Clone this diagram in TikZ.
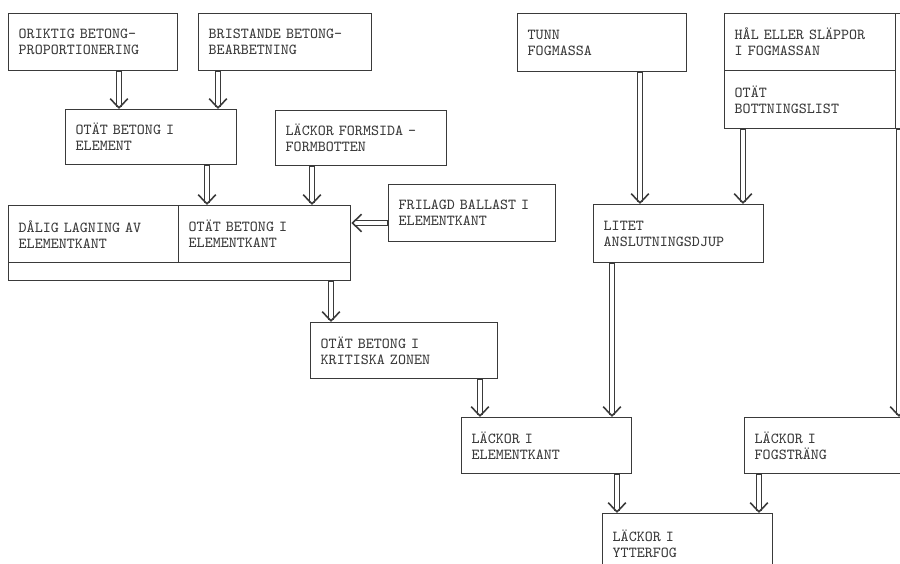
\documentclass[tikz,border=0pt]{standalone}
\usetikzlibrary{arrows.meta}
\definecolor{tinta}{HTML}{3A3A3A}
\newcommand{\maskin}{\fontsize{8.7}{9.1}\selectfont\ttfamily}

\begin{document}
\begin{tikzpicture}[x=0.02cm, y=-0.02cm,
    ruta/.style={draw=tinta, line width=0.8pt, anchor=north west, align=left,
      inner xsep=0.2cm, inner ysep=0pt, text width=#1, minimum height=1.14cm,
      font=\maskin, text=tinta},
    % dubbel stam, enkel öppen pilspets
    pil/.style={draw=tinta, line width=0.9pt, dash pattern=on 0pt off 40cm,
      -{Straight Barb[length=5.2pt, width=10pt]},
      preaction={draw=tinta, arrows=-, solid, line width=3.1pt, shorten >=1.3pt},
      preaction={draw=white, arrows=-, solid, line width=2pt, shorten >=1.3pt, shorten <=0.5pt}}]
  \useasboundingbox (0,0) rectangle (900,564);
  \clip (0,0) rectangle (900,564);
  % betongsidan
  \node[ruta=2.98cm] (ori) at (8,13) {ORIKTIG BETONG-\\PROPORTIONERING};
  \node[ruta=3.06cm] (bri) at (198,13) {BRISTANDE BETONG-\\BEARBETNING};
  \node[ruta=3.02cm, minimum height=1.1cm] (otel) at (65,109) {OTÄT BETONG I\\ELEMENT};
  \node[ruta=3.02cm, minimum height=1.1cm] (lfo) at (275,110) {LÄCKOR FORMSIDA -\\FORMBOTTEN};
  \node[ruta=6.44cm, minimum height=1.5cm] (big) at (8,205) {};
  \node[ruta=3.0cm] (dal) at (8,205) {DÅLIG LAGNING AV\\ELEMENTKANT};
  \node[ruta=3.04cm] (otek) at (178,205) {OTÄT BETONG I\\ELEMENTKANT};
  \node[ruta=2.94cm] (fri) at (388,184) {FRILAGD BALLAST I\\ELEMENTKANT};
  \node[ruta=3.34cm, minimum height=1.12cm] (kri) at (310,322) {OTÄT BETONG I\\KRITISKA ZONEN};
  % fogsidan
  \node[ruta=2.98cm, minimum height=1.16cm] (tun) at (517,13) {TUNN\\FOGMASSA};
  \node[ruta=3.02cm] (hal) at (724,13) {HÅL ELLER SLÄPPOR\\I FOGMASSAN};
  \node[ruta=3.02cm, minimum height=1.16cm] (bot) at (724,70) {OTÄT\\BOTTNINGSLIST};
  \node[ruta=1.0cm, minimum height=2.3cm] (hx) at (895,13) {};
  \node[ruta=3.0cm, minimum height=1.16cm] (lit) at (593,204) {LITET\\ANSLUTNINGSDJUP};
  % läckor
  \node[ruta=3.0cm, minimum height=1.12cm] (lel) at (461,417) {LÄCKOR I\\ELEMENTKANT};
  \node[ruta=3.6cm, minimum height=1.12cm] (lfs) at (744,417) {LÄCKOR I\\FOGSTRÄNG};
  \node[ruta=3.0cm, minimum height=1.2cm] (lyt) at (602,513) {LÄCKOR I\\YTTERFOG};

  \draw[pil] (119,0 |- ori.south) -- (119,0 |- otel.north);
  \draw[pil] (218,0 |- bri.south) -- (218,0 |- otel.north);
  \draw[pil] (207,0 |- otel.south) -- (207,0 |- otek.north);
  \draw[pil] (312,0 |- lfo.south) -- (312,0 |- otek.north);
  \draw[pil] (fri.west |- 0,223) -- (big.east |- 0,223);
  \draw[pil] (331,0 |- big.south) -- (331,0 |- kri.north);
  \draw[pil] (480,0 |- kri.south) -- (480,0 |- lel.north);
  \draw[pil] (640,0 |- tun.south) -- (640,0 |- lit.north);
  \draw[pil] (743,0 |- bot.south) -- (743,0 |- lit.north);
  \draw[pil] (612,0 |- lit.south) -- (612,0 |- lel.north);
  \draw[pil] (899,0 |- hx.south) -- (899,0 |- lfs.north);
  \draw[pil] (617,0 |- lel.south) -- (617,0 |- lyt.north);
  \draw[pil] (759,0 |- lfs.south) -- (759,0 |- lyt.north);
\end{tikzpicture}
\end{document}
